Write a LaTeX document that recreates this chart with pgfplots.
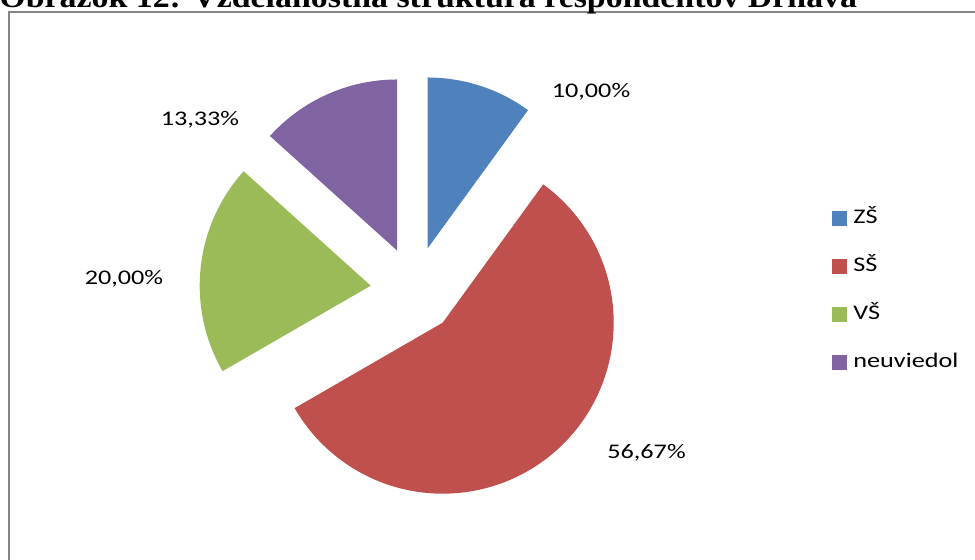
\documentclass[border=0pt]{standalone}
\usepackage{fontspec}
\setmainfont{Carlito}[FakeStretch=1.26]
\newfontfamily\titlefont{Liberation Serif}[FakeStretch=1.1]
\usepackage{pgfplots}
\usepackage{pgfplotstable}
\pgfplotsset{compat=1.18}
\definecolor{cZS}{HTML}{4F81BD}
\definecolor{cSS}{HTML}{C0504D}
\definecolor{cVS}{HTML}{9BBB59}
\definecolor{cNV}{HTML}{8064A2}
\definecolor{frameg}{HTML}{868686}
% share in per cent, and the position of each (exploded) slice tip
\pgfplotstableread{
label value cx cy
ZS 10.00 427.5 311.5
SS 56.67 442.7 237.3
VS 20.00 370.7 274.3
NV 13.33 397.0 309.5
}\pietable
\def\pieR{171}
\newcommand\lblfont{\fontsize{10.4pt}{12pt}\selectfont}
\def\angacc{90}
\newcommand\getslice[2]{%
  \pgfplotstablegetelem{#1}{value}\of\pietable \let\pv\pgfplotsretval
  \pgfplotstablegetelem{#1}{cx}\of\pietable \expandafter\xdef\csname cx#2\endcsname{\pgfplotsretval}%
  \pgfplotstablegetelem{#1}{cy}\of\pietable \expandafter\xdef\csname cy#2\endcsname{\pgfplotsretval}%
  \pgfmathsetmacro\aend{\angacc-3.6*\pv}%
  \expandafter\xdef\csname as#2\endcsname{\angacc}%
  \expandafter\xdef\csname ae#2\endcsname{\aend}%
  \xdef\angacc{\aend}%
}
\getslice{0}{A}\getslice{1}{B}\getslice{2}{C}\getslice{3}{D}
\begin{document}
\begin{tikzpicture}
\useasboundingbox (0,0) rectangle (487.5pt,280pt);
\begin{axis}[x=0.5pt,y=0.5pt,xmin=0,xmax=975,ymin=0,ymax=560,
  hide axis, clip=false, scale only axis, at={(0,0)}, anchor=south west,
  legend style={at={(axis cs:832,352)}, anchor=north west, draw=none, fill=none,
    inner sep=0pt, font=\lblfont, row sep=14pt,
    nodes={inner sep=0pt, text height=7.5pt, text depth=2.5pt}},
  legend image code/.code={\fill[#1] (0pt,-3.75pt) rectangle (7.5pt,3.75pt); \path (10.5pt,0pt);},
  legend cell align=left,
]
\draw[frameg, line width=0.8pt] (axis cs:9,-20) -- (axis cs:9,548) -- (axis cs:1000,548);
\addplot[forget plot, draw=none, fill=cZS, domain=\aeA:\asA, samples=150, variable=\t]
    ({\cxA+\pieR*cos(\t)}, {\cyA+\pieR*sin(\t)}) -- (axis cs:\cxA,\cyA) -- cycle;
\addplot[forget plot, draw=none, fill=cSS, domain=\aeB:\asB, samples=150, variable=\t]
    ({\cxB+\pieR*cos(\t)}, {\cyB+\pieR*sin(\t)}) -- (axis cs:\cxB,\cyB) -- cycle;
\addplot[forget plot, draw=none, fill=cVS, domain=\aeC:\asC, samples=150, variable=\t]
    ({\cxC+\pieR*cos(\t)}, {\cyC+\pieR*sin(\t)}) -- (axis cs:\cxC,\cyC) -- cycle;
\addplot[forget plot, draw=none, fill=cNV, domain=\aeD:\asD, samples=150, variable=\t]
    ({\cxD+\pieR*cos(\t)}, {\cyD+\pieR*sin(\t)}) -- (axis cs:\cxD,\cyD) -- cycle;
\addlegendimage{fill=cZS, draw=none}\addlegendentry{ZŠ}
\addlegendimage{fill=cSS, draw=none}\addlegendentry{SŠ}
\addlegendimage{fill=cVS, draw=none}\addlegendentry{VŠ}
\addlegendimage{fill=cNV, draw=none}\addlegendentry{neuviedol}
\node[anchor=base, inner sep=0pt, font=\lblfont] at (axis cs:591,462) {10,00\%};
\node[anchor=base, inner sep=0pt, font=\lblfont] at (axis cs:646.5,101) {56,67\%};
\node[anchor=base, inner sep=0pt, font=\lblfont] at (axis cs:124,275) {20,00\%};
\node[anchor=base, inner sep=0pt, font=\lblfont] at (axis cs:200,434) {13,33\%};
\node[anchor=base west, inner sep=0pt, font=\titlefont\bfseries\fontsize{15.4pt}{18pt}\selectfont]
  at (axis cs:-1,552.5) {Obrázok 12: Vzdelanostná štruktúra respondentov Drnava};
\end{axis}
\end{tikzpicture}
\end{document}
